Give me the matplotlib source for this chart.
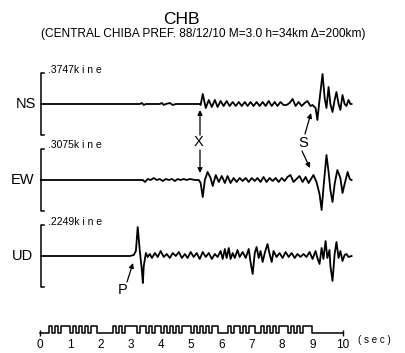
import numpy as np
import matplotlib
matplotlib.use('Agg')
import matplotlib.pyplot as plt

plt.rcParams['font.family'] = ['Liberation Sans', 'DejaVu Sans']

# ---------------- data (time in s, amplitude in relative units; full scale = 31) ----
FULL = 31
ns_t = [0.03, 1.98, 3.30, 3.37, 3.43, 3.50, 3.96, 4.03, 4.09, 4.16,
        4.29, 4.39, 4.49, 5.21, 5.28, 5.31, 5.38, 5.48, 5.58, 5.68,
        5.78, 5.87, 5.97, 6.07, 6.17, 6.27, 6.37, 6.47, 6.57, 6.67,
        6.77, 6.86, 6.96, 7.06, 7.16, 7.26, 7.36, 7.46, 7.56, 7.66,
        7.76, 7.85, 7.95, 8.05, 8.15, 8.25, 8.35, 8.45, 8.55, 8.65,
        8.75, 8.84, 8.94, 9.01, 9.11, 9.17, 9.24, 9.34, 9.41, 9.47,
        9.54, 9.60, 9.67, 9.74, 9.80, 9.87, 9.93, 10.00, 10.07, 10.13,
        10.20, 10.26, 10.30]
ns_v = [0, 0, 0, 1, -1, 0, 0, 1, -1, 0,
        1, -1, 0, 0, 0, -1, 10, -4, 4, -3,
        4, -3, 3, -2, 3, -2, 2, -2, 2, -2,
        2, -2, 2, -2, 2, -2, 2, -2, 3, -2,
        2, -2, 2, -1, -1, 1, 5, -2, 2, -2,
        1, 3, -2, -1, -4, -16, 4, 30, 6, -4,
        17, 0, -8, 4, 12, 0, -6, 9, 0, -2,
        4, 0, 0]

ew_t = [0.03, 3.30, 3.40, 3.47, 3.56, 3.66, 3.76, 3.86, 3.96, 4.06,
        4.16, 4.26, 4.36, 4.46, 4.55, 4.65, 4.75, 4.85, 4.95, 5.12,
        5.25, 5.31, 5.38, 5.45, 5.54, 5.64, 5.71, 5.81, 5.91, 6.01,
        6.11, 6.20, 6.30, 6.40, 6.50, 6.60, 6.70, 6.80, 6.90, 7.00,
        7.10, 7.19, 7.29, 7.39, 7.49, 7.59, 7.69, 7.79, 7.89, 7.99,
        8.09, 8.18, 8.28, 8.38, 8.48, 8.58, 8.68, 8.78, 8.88, 8.98,
        9.04, 9.14, 9.24, 9.31, 9.37, 9.47, 9.54, 9.60, 9.67, 9.74,
        9.83, 9.93, 10.00, 10.07, 10.17, 10.24, 10.30]
ew_v = [0, 0, 0, -2, 1, 0, 2, 0, 1, -1,
        1, 0, 1, -1, 1, 0, 1, 0, 1, 0,
        0, -3, -17, 0, 8, 2, -6, 5, -2, 4,
        -3, 4, -3, 2, -2, 2, -1, 2, -2, 2,
        -1, 2, -2, 3, -2, 2, -1, 2, -2, 2,
        -1, 3, 5, -2, 1, 4, -2, 3, -3, 2,
        5, -2, -14, -30, -8, 25, 8, -10, -22, -4,
        10, 2, -13, -4, 8, 1, 0]

ud_t = [0.03, 2.97, 3.10, 3.17, 3.23, 3.30, 3.37, 3.40, 3.43, 3.50,
        3.56, 3.63, 3.70, 3.80, 3.89, 3.99, 4.09, 4.19, 4.29, 4.39,
        4.49, 4.59, 4.69, 4.79, 4.88, 4.98, 5.08, 5.18, 5.28, 5.38,
        5.48, 5.58, 5.68, 5.78, 5.87, 5.97, 6.04, 6.11, 6.17, 6.24,
        6.30, 6.37, 6.44, 6.53, 6.60, 6.70, 6.80, 6.90, 6.96, 7.03,
        7.10, 7.16, 7.23, 7.29, 7.36, 7.43, 7.52, 7.59, 7.66, 7.72,
        7.82, 7.92, 8.02, 8.12, 8.22, 8.32, 8.42, 8.51, 8.61, 8.71,
        8.81, 8.91, 9.01, 9.11, 9.17, 9.24, 9.31, 9.37, 9.44, 9.50,
        9.57, 9.60, 9.67, 9.74, 9.80, 9.87, 9.93, 10.00, 10.07, 10.13,
        10.20, 10.30]
ud_v = [0, 0, 1, 5, 29, 5, -15, -27, -10, 3,
        -1, 2, -2, 3, -1, 5, -1, 2, -2, 3,
        0, 4, -2, 2, -2, 4, -1, 3, -3, 4,
        -1, 3, -3, 2, -1, 5, -3, 7, -2, 8,
        -3, 3, -2, 6, -1, 4, -2, 7, -6, -18,
        3, 9, -2, 5, -6, 3, 12, 2, -6, 5,
        -1, 3, -2, 4, -1, 3, -2, 2, -1, 2,
        -1, 4, -3, 5, -2, -8, 8, -3, 15, -2,
        6, -10, -25, 2, 14, -2, 5, -5, 1, 2,
        -1, 0]

components = ["NS", "EW", "UD"]
full_scale_labels = [".3747k i n e", ".3075k i n e", ".2249k i n e"]

# time code, 0.1 s per character
tc_code = ["0001010111", "0101010110", "0000101011", "1101101011", "0101010111",
           "0101010110", "0010110101", "1001010101", "1101010111", "0000000000"]
tick_labels = [str(i) for i in range(11)]

# ---------------- layout ----------------
W, H = 405, 353
fig = plt.figure(figsize=(W / 100, H / 100), dpi=100)
PX_PER_S = 30.25
T0_PX = 40.0
XLIM = (-0.2, 10.6)


def fpx(x, y):
    return (x / W, 1 - y / H)


def add_axes_px(top, bottom, base):
    xl = T0_PX + XLIM[0] * PX_PER_S
    xr = T0_PX + XLIM[1] * PX_PER_S
    ax = fig.add_axes([xl / W, 1 - bottom / H, (xr - xl) / W, (bottom - top) / H])
    ax.set_xlim(*XLIM)
    ax.set_ylim(-(bottom - base), base - top)
    ax.axis('off')
    return ax


traces = [(ns_t, ns_v), (ew_t, ew_v), (ud_t, ud_v)]
boxes = [(62, 142, 104), (142, 218, 180), (218, 296, 256)]
label_right = [36, 34, 33]
amp_label_y = [70, 145, 222]

for (t, v), (top, bot, base), comp, lab, lr, ay in zip(traces, boxes, components,
                                                      full_scale_labels, label_right,
                                                      amp_label_y):
    ax = add_axes_px(top, bot, base)
    ax.plot(t, v, color='black', lw=1.3, solid_joinstyle='round')
    ax.plot([0.12, 0.03, 0.03, 0.12], [FULL, FULL, -FULL, -FULL], color='black', lw=1.1)
    fig.text(*fpx(lr, base), comp, ha='right', va='center', fontsize=10.5)
    fig.text(*fpx(48, ay), lab, ha='left', va='center', fontsize=7.5)

# time code
axt = add_axes_px(318, 338, 333)
axt.set_ylim(-5 / 7, 15 / 7)
levels = [int(c) for s in tc_code for c in s] + [0]
tt = np.arange(len(levels)) / 10.0
axt.step(tt, levels, where='post', color='black', lw=1.1)
axt.plot([0, 10], [0, 0], linestyle='none', marker='|', color='black', ms=4, mew=1.0)
axt.axis('on')
for sp in axt.spines.values():
    sp.set_visible(False)
axt.set_yticks([])
axt.set_xticks(range(11))
axt.set_xticklabels(tick_labels, fontsize=8.5)
axt.tick_params(axis='x', length=0, pad=1)
fig.text(*fpx(358, 340), "( s e c )", ha='left', va='center', fontsize=7)

# titles
fig.text(*fpx(181, 19), "CHB", ha='center', va='center', fontsize=12.5)
fig.text(*fpx(203, 34), "(CENTRAL CHIBA PREF. 88/12/10 M=3.0 h=34km \u0394=200km)",
         ha='center', va='center', fontsize=8.6)

# phase markers
for txt, (x, y) in [("X", (199, 142)), ("S", (303, 143)), ("P", (123, 290))]:
    fig.text(*fpx(x, y), txt, ha='center', va='center', fontsize=10.5)

arrows = [((200, 135), (200, 110)), ((200, 150), (200, 173)),
          ((305, 134), (311, 113)), ((302, 151), (310, 168)),
          ((127, 282), (133, 263))]
for (x0, y0), (x1, y1) in arrows:
    fig.add_artist(matplotlib.patches.FancyArrowPatch(
        fpx(x0, y0), fpx(x1, y1), transform=fig.transFigure,
        arrowstyle='-|>', mutation_scale=7, lw=0.9, color='black',
        shrinkA=0, shrinkB=0))

fig.savefig('out.png', dpi=100)
